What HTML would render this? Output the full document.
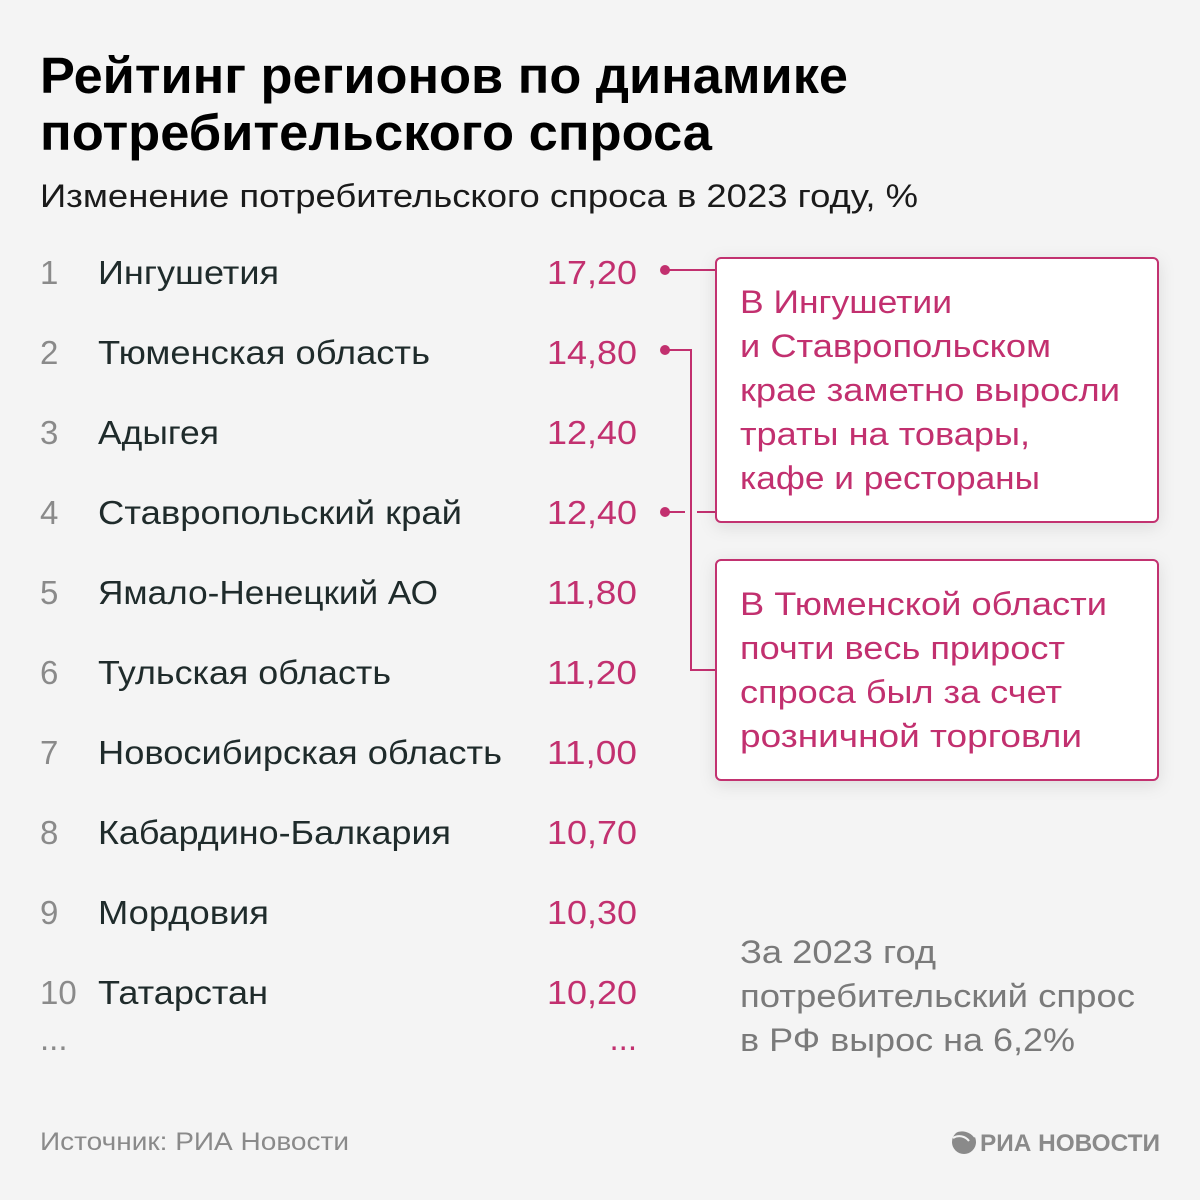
<!DOCTYPE html>
<html><head><meta charset="utf-8"><style>
html,body{margin:0;padding:0;background:#f4f4f4;}
svg{display:block;font-family:"Liberation Sans",sans-serif;}
</style></head><body>
<svg width="1200" height="1200" viewBox="0 0 1200 1200" xmlns="http://www.w3.org/2000/svg">
<defs>
<filter id="sh" x="-10%" y="-10%" width="120%" height="130%"><feDropShadow dx="0" dy="4" stdDeviation="8" flood-color="#000" flood-opacity="0.10"/></filter>
</defs>
<rect width="1200" height="1200" fill="#f4f4f4"/>
<g lengthAdjust="spacingAndGlyphs">
<text x="40" y="93" font-size="51" font-weight="bold" fill="#000" textLength="808" lengthAdjust="spacingAndGlyphs">Рейтинг регионов по динамике</text>
<text x="40" y="150" font-size="51" font-weight="bold" fill="#000" textLength="672" lengthAdjust="spacingAndGlyphs">потребительского спроса</text>
<text x="40" y="207" font-size="32" fill="#1a1a1a" textLength="878" lengthAdjust="spacingAndGlyphs">Изменение потребительского спроса в 2023 году, %</text>
</g>
<g font-size="33">
<g fill="#8a8a8a">
<text x="40" y="284">1</text><text x="40" y="364">2</text><text x="40" y="444">3</text><text x="40" y="524">4</text><text x="40" y="604">5</text><text x="40" y="684">6</text><text x="40" y="764">7</text><text x="40" y="844">8</text><text x="40" y="924">9</text><text x="40" y="1004">10</text><text x="40" y="1050">...</text>
</g>
<g fill="#1f2b2b">
<text x="98" y="284" textLength="181" lengthAdjust="spacingAndGlyphs">Ингушетия</text>
<text x="98" y="364" textLength="332" lengthAdjust="spacingAndGlyphs">Тюменская область</text>
<text x="98" y="444" textLength="121" lengthAdjust="spacingAndGlyphs">Адыгея</text>
<text x="98" y="524" textLength="364" lengthAdjust="spacingAndGlyphs">Ставропольский край</text>
<text x="98" y="604" textLength="340" lengthAdjust="spacingAndGlyphs">Ямало-Ненецкий АО</text>
<text x="98" y="684" textLength="293" lengthAdjust="spacingAndGlyphs">Тульская область</text>
<text x="98" y="764" textLength="404" lengthAdjust="spacingAndGlyphs">Новосибирская область</text>
<text x="98" y="844" textLength="353" lengthAdjust="spacingAndGlyphs">Кабардино-Балкария</text>
<text x="98" y="924" textLength="171" lengthAdjust="spacingAndGlyphs">Мордовия</text>
<text x="98" y="1004" textLength="170" lengthAdjust="spacingAndGlyphs">Татарстан</text>
</g>
<g fill="#c2306f">
<text x="547" y="284" textLength="90" lengthAdjust="spacingAndGlyphs">17,20</text>
<text x="547" y="364" textLength="90" lengthAdjust="spacingAndGlyphs">14,80</text>
<text x="547" y="444" textLength="90" lengthAdjust="spacingAndGlyphs">12,40</text>
<text x="547" y="524" textLength="90" lengthAdjust="spacingAndGlyphs">12,40</text>
<text x="547" y="604" textLength="90" lengthAdjust="spacingAndGlyphs">11,80</text>
<text x="547" y="684" textLength="90" lengthAdjust="spacingAndGlyphs">11,20</text>
<text x="547" y="764" textLength="90" lengthAdjust="spacingAndGlyphs">11,00</text>
<text x="547" y="844" textLength="90" lengthAdjust="spacingAndGlyphs">10,70</text>
<text x="547" y="924" textLength="90" lengthAdjust="spacingAndGlyphs">10,30</text>
<text x="547" y="1004" textLength="90" lengthAdjust="spacingAndGlyphs">10,20</text>
<text x="637" y="1050" text-anchor="end">...</text>
</g>
</g>
<g stroke="#c2306f" stroke-width="2" fill="none">
<line x1="665" y1="270" x2="716" y2="270"/>
<polyline points="665,350 691,350 691,670 716,670"/>
<line x1="665" y1="512" x2="685" y2="512"/>
<line x1="697" y1="512" x2="716" y2="512"/>
</g>
<g fill="#c2306f"><circle cx="665" cy="270" r="5"/><circle cx="665" cy="350" r="5"/><circle cx="665" cy="512" r="5"/></g>
<rect x="716" y="258" width="442" height="264" rx="5" fill="#fff" stroke="#c2306f" stroke-width="2" filter="url(#sh)"/>
<rect x="716" y="560" width="442" height="220" rx="5" fill="#fff" stroke="#c2306f" stroke-width="2" filter="url(#sh)"/>
<g font-size="32" fill="#c2306f">
<text x="740" y="313" textLength="212" lengthAdjust="spacingAndGlyphs">В Ингушетии</text>
<text x="740" y="357" textLength="311" lengthAdjust="spacingAndGlyphs">и Ставропольском</text>
<text x="740" y="401" textLength="380" lengthAdjust="spacingAndGlyphs">крае заметно выросли</text>
<text x="740" y="445" textLength="290" lengthAdjust="spacingAndGlyphs">траты на товары,</text>
<text x="740" y="489" textLength="300" lengthAdjust="spacingAndGlyphs">кафе и рестораны</text>
<text x="740" y="615" textLength="367" lengthAdjust="spacingAndGlyphs">В Тюменской области</text>
<text x="740" y="659" textLength="325" lengthAdjust="spacingAndGlyphs">почти весь прирост</text>
<text x="740" y="703" textLength="322" lengthAdjust="spacingAndGlyphs">спроса был за счет</text>
<text x="740" y="747" textLength="342" lengthAdjust="spacingAndGlyphs">розничной торговли</text>
</g>
<g font-size="32" fill="#7a7a7a">
<text x="740" y="963" textLength="196" lengthAdjust="spacingAndGlyphs">За 2023 год</text>
<text x="740" y="1007" textLength="395" lengthAdjust="spacingAndGlyphs">потребительский спрос</text>
<text x="740" y="1051" textLength="335" lengthAdjust="spacingAndGlyphs">в РФ вырос на 6,2%</text>
</g>
<text x="40" y="1150" font-size="25" fill="#8a8a8a" textLength="309" lengthAdjust="spacingAndGlyphs">Источник: РИА Новости</text>
<g fill="#8a8a8a">
<circle cx="964" cy="1142" r="12"/>
<path d="M955 1132 a16 16 0 0 1 20 5 M953 1138 a12 12 0 0 1 16 3" stroke="#f4f4f4" stroke-width="2" fill="none"/>
<text x="980" y="1151" font-size="24" font-weight="bold" textLength="180" lengthAdjust="spacingAndGlyphs">РИА НОВОСТИ</text>
</g>
</svg>
</body></html>
